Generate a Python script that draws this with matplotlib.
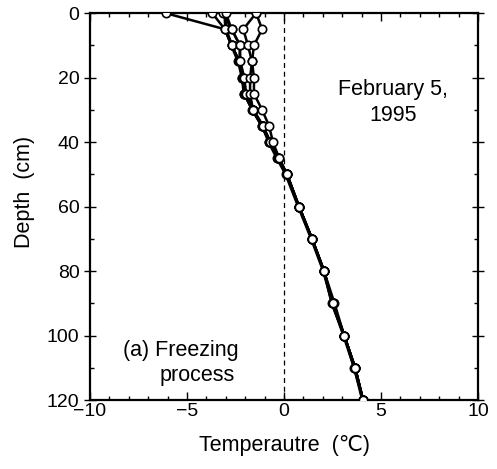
import matplotlib
matplotlib.use("Agg")
import matplotlib.pyplot as plt
from matplotlib.ticker import MultipleLocator

plt.rcParams['font.family'] = ['Liberation Sans', 'DejaVu Sans']

depth = [0, 5, 10, 15, 20, 25, 30, 35, 40, 45, 50, 60, 70, 80, 90, 100, 110, 120]

p1 = [-6.1, -3.05, -2.7, -2.3, -2.15, -2.05, -1.65, -1.15, -0.75, -0.3, 0.15, 0.77, 1.44, 2.06, 2.5, 3.1, 3.66, 4.07]
p2 = [-3.7, -3.05, -2.7, -2.3, -2.1, -2.0, -1.6, -1.1, -0.7, -0.3, 0.15, 0.77, 1.44, 2.06, 2.6, 3.1, 3.6, 4.07]
p3 = [-3.15, -2.7, -2.27, -2.3, -2.1, -2.0, -1.6, -1.15, -0.72, -0.3, 0.15, 0.77, 1.44, 2.06, 2.5, 3.1, 3.66, 4.07]
p4 = [-3.0, -2.7, -2.27, -2.25, -2.05, -1.95, -1.6, -1.1, -0.7, -0.25, 0.15, 0.77, 1.44, 2.06, 2.45, 3.1, 3.66, 4.07]
p5 = [-1.44, -2.1, -1.86, -1.65, -1.75, -1.75, -1.6, -1.1, -0.7, -0.3, 0.15, 0.77, 1.44, 2.06, 2.5, 3.1, 3.66, 4.07]
p6 = [-1.44, -1.13, -1.55, -1.65, -1.55, -1.55, -1.13, -0.77, -0.57, -0.25, 0.15, 0.77, 1.44, 2.06, 2.5, 3.1, 3.66, 4.07]
p_filled = [-3.05, -3.0, -2.7, -2.35, -2.15, -2.05, -1.6, -1.1, -0.78, -0.35, 0.1, 0.75, 1.42, 2.04, 2.5, 3.08, 3.64, 4.05]

open_profiles = [p1, p2, p3, p4, p5, p6]

fig = plt.figure(figsize=(4.97, 4.69), dpi=100)
ax = fig.add_axes([0.181, 0.147, 0.781, 0.825])

ax.plot(p_filled, depth, color='black', lw=2.4, marker='o', ms=6,
        mfc='black', mec='black', mew=1.2, zorder=3)
for p in open_profiles:
    ax.plot(p, depth, color='black', lw=1.8, marker='o', ms=6,
            mfc='white', mec='black', mew=1.2, zorder=4)

ax.axvline(0, color='black', lw=0.9, ls=(0, (4, 3)), zorder=1)

ax.set_xlim(-10, 10)
ax.set_ylim(120, 0)
ax.xaxis.set_major_locator(MultipleLocator(5))
ax.xaxis.set_minor_locator(MultipleLocator(1))
ax.yaxis.set_major_locator(MultipleLocator(20))
ax.yaxis.set_minor_locator(MultipleLocator(10))
ax.tick_params(axis='both', which='both', direction='in', top=True, right=True,
               labelsize=14, width=1.0)
ax.tick_params(axis='both', which='major', length=6)
ax.tick_params(axis='both', which='minor', length=3)
ax.tick_params(axis='y', which='major', direction='inout', length=8)
ax.tick_params(axis='x', which='major', pad=2)
ax.set_xticks([-10, -5, 0, 5, 10])
ax.set_xticklabels(['\u221210', '\u22125', '0', '5', '10'])
for s in ax.spines.values():
    s.set_linewidth(1.6)

ax.set_xlabel('Temperautre  (\u2103)', fontsize=15.5, labelpad=11)
ax.set_ylabel('Depth  (cm)', fontsize=15.5)
ax.yaxis.set_label_coords(-0.142, 0.537)

ax.text(5.6, 27.7, 'February 5,\n1995', fontsize=15.5, ha='center', va='center',
        linespacing=1.3)
ax.text(-8.3, 104.5, '(a) Freezing', fontsize=15.5, ha='left', va='center')
ax.text(-4.5, 112.3, 'process', fontsize=15.5, ha='center', va='center')

fig.savefig('out.png', dpi=100)
